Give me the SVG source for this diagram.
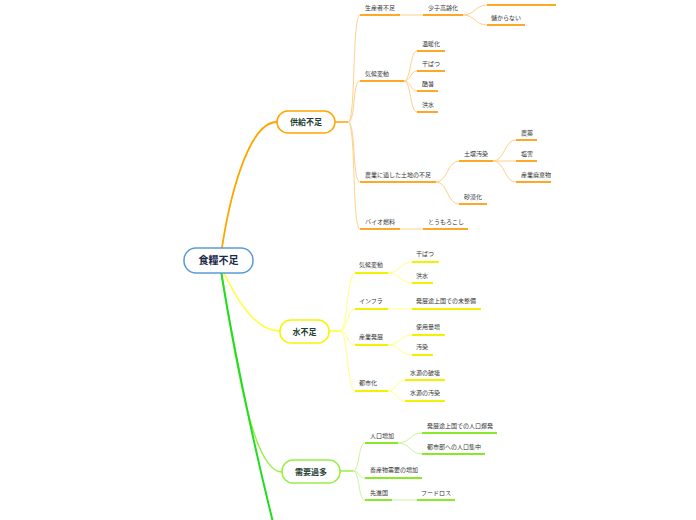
<svg xmlns="http://www.w3.org/2000/svg" width="696" height="520" viewBox="0 0 696 520">
<style>
.t{font-family:"Noto Sans CJK JP","Noto Sans",sans-serif;font-size:6px;fill:#333}
.mt{font-family:"Noto Sans CJK JP","Noto Sans",sans-serif;font-size:8px;font-weight:bold;fill:#1e4032;text-anchor:middle}
.rt{font-family:"Noto Sans CJK JP","Noto Sans",sans-serif;font-size:10px;font-weight:bold;fill:#1a2a4a;text-anchor:middle}
.ol{stroke:#ffa726;stroke-width:2;fill:none}
.oc{stroke:#ffd08a;stroke-width:1;fill:none}
.yl{stroke:#f2f200;stroke-width:2;fill:none}
.yc{stroke:#ffff80;stroke-width:1;fill:none}
.gl{stroke:#88e82a;stroke-width:2;fill:none}
.gc{stroke:#c8f59a;stroke-width:1;fill:none}
.mn{fill:#fff;stroke-width:1.5}
</style>
<g id="connectors">
<path d="M220,262 C228,200 248,122 277,122" stroke="#ffa500" stroke-width="1.8" fill="none"/>
<path d="M220,264 C236,300 255,331 280,331" stroke="#ffff33" stroke-width="1.5" fill="none"/>
<path d="M220,264 C238,380 255,472 282,472" stroke="#99ee44" stroke-width="1.5" fill="none"/>
<path d="M220,264 C230,330 252,440 275,530" stroke="#22dd22" stroke-width="2" fill="none"/>
<path d="M335,122 L348,122" stroke="#ffa500" stroke-width="1.5"/>
<path class="oc" d="M348,122 C356,122 352,15 360,15"/>
<path class="oc" d="M348,122 C356,122 352,81 360,81"/>
<path class="oc" d="M348,122 C356,122 352,182 360,182"/>
<path class="oc" d="M348,122 C356,122 352,229 360,229"/>
<path class="oc" d="M400,15 L423,15"/>
<path class="oc" d="M463,15 C475,15 475,5 487,5"/>
<path class="oc" d="M463,15 C475,15 475,25 487,25"/>
<path class="oc" d="M404,81 C411,81 410,51 417,51"/>
<path class="oc" d="M404,81 C411,81 410,71 417,71"/>
<path class="oc" d="M404,81 C411,81 410,91 417,91"/>
<path class="oc" d="M404,81 C411,81 410,112 417,112"/>
<path class="oc" d="M436,182 C448,182 447,161 459,161"/>
<path class="oc" d="M436,182 C448,182 447,204 459,204"/>
<path class="oc" d="M493,161 C505,161 504,140 516,140"/>
<path class="oc" d="M493,161 L516,161"/>
<path class="oc" d="M493,161 C505,161 504,182 516,182"/>
<path class="oc" d="M400,229 L423,229"/>
<path d="M329,331 L340,331" stroke="#ffff33" stroke-width="1.5"/>
<path class="yc" d="M340,331 C348,331 347,273 355,273"/>
<path class="yc" d="M340,331 C348,331 347,309 355,309"/>
<path class="yc" d="M340,331 C348,331 347,345 355,345"/>
<path class="yc" d="M340,331 C348,331 347,391 355,391"/>
<path class="yc" d="M388,273 C400,273 400,262 412,262"/>
<path class="yc" d="M388,273 C400,273 400,283 412,283"/>
<path class="yc" d="M388,309 L412,309"/>
<path class="yc" d="M388,345 C400,345 400,335 412,335"/>
<path class="yc" d="M388,345 C400,345 400,355 412,355"/>
<path class="yc" d="M388,391 C397,391 396,380 405,380"/>
<path class="yc" d="M388,391 C397,391 396,401 405,401"/>
<path d="M340,471 L353,471" stroke="#99ee44" stroke-width="1.5"/>
<path class="gc" d="M353,471 C360,471 358,443 365,443"/>
<path class="gc" d="M353,471 C360,471 358,478 365,478"/>
<path class="gc" d="M353,471 C360,471 358,500 365,500"/>
<path class="gc" d="M398,443 C410,443 410,433 422,433"/>
<path class="gc" d="M398,443 C410,443 410,454 422,454"/>
<path class="gc" d="M392,500 L417,500"/>
</g>
<g id="root"><rect class="mn" x="184" y="248" width="69" height="25" rx="12" stroke="#5b9bd5"/><text class="rt" x="218.5" y="264">食糧不足</text></g>
<g id="kyokyu"><rect class="mn" x="277" y="111" width="58" height="22" rx="11" stroke="#ffa500"/><text class="mt" x="306" y="125">供給不足</text></g>
<g id="mizu"><rect class="mn" x="280" y="320" width="49" height="23" rx="11" stroke="#f5f500"/><text class="mt" x="304.5" y="334.5">水不足</text></g>
<g id="juyo"><rect class="mn" x="282" y="460" width="58" height="23" rx="11" stroke="#99ee44"/><text class="mt" x="311" y="474.5">需要過多</text></g>
<g id="k1"><path class="ol" d="M360,15 H400"/><text class="t" x="365" y="10">生産者不足</text></g>
<g id="k1a"><path class="ol" d="M423,15 H463"/><text class="t" x="428" y="10">少子高齢化</text></g>
<g id="k1a1"><path class="ol" d="M487,5 H556"/></g>
<g id="k1a2"><path class="ol" d="M487,25 H525"/><text class="t" x="491" y="20">儲からない</text></g>
<g id="k2"><path class="ol" d="M360,81 H404"/><text class="t" x="365" y="76">気候変動</text></g>
<g id="k2a"><path class="ol" d="M417,51 H445"/><text class="t" x="422" y="46">温暖化</text></g>
<g id="k2b"><path class="ol" d="M417,71 H445"/><text class="t" x="422" y="66">干ばつ</text></g>
<g id="k2c"><path class="ol" d="M417,91 H438"/><text class="t" x="422" y="86">酷暑</text></g>
<g id="k2d"><path class="ol" d="M417,112 H438"/><text class="t" x="422" y="107">洪水</text></g>
<g id="k3"><path class="ol" d="M360,182 H436"/><text class="t" x="365" y="177">農業に適した土地の不足</text></g>
<g id="k3a"><path class="ol" d="M459,161 H493"/><text class="t" x="464" y="156">土壌汚染</text></g>
<g id="k3a1"><path class="ol" d="M516,140 H537"/><text class="t" x="521" y="135">農薬</text></g>
<g id="k3a2"><path class="ol" d="M516,161 H537"/><text class="t" x="521" y="156">塩害</text></g>
<g id="k3a3"><path class="ol" d="M516,182 H551"/><text class="t" x="521" y="177">産業廃棄物</text></g>
<g id="k3b"><path class="ol" d="M459,204 H487"/><text class="t" x="464" y="199">砂漠化</text></g>
<g id="k4"><path class="ol" d="M360,229 H400"/><text class="t" x="365" y="224">バイオ燃料</text></g>
<g id="k4a"><path class="ol" d="M423,229 H468"/><text class="t" x="428" y="224">とうもろこし</text></g>
<g id="m1"><path class="yl" d="M355,273 H388"/><text class="t" x="359" y="267">気候変動</text></g>
<g id="m1a"><path class="yl" d="M412,262 H439"/><text class="t" x="416" y="256">干ばつ</text></g>
<g id="m1b"><path class="yl" d="M412,283 H433"/><text class="t" x="416" y="278">洪水</text></g>
<g id="m2"><path class="yl" d="M355,309 H388"/><text class="t" x="359" y="303">インフラ</text></g>
<g id="m2a"><path class="yl" d="M412,309 H481"/><text class="t" x="416" y="303">発展途上国での未整備</text></g>
<g id="m3"><path class="yl" d="M355,345 H388"/><text class="t" x="359" y="339">産業発展</text></g>
<g id="m3a"><path class="yl" d="M412,335 H445"/><text class="t" x="416" y="329">使用量増</text></g>
<g id="m3b"><path class="yl" d="M412,355 H433"/><text class="t" x="416" y="349">汚染</text></g>
<g id="m4"><path class="yl" d="M355,391 H388"/><text class="t" x="359" y="385">都市化</text></g>
<g id="m4a"><path class="yl" d="M405,380 H445"/><text class="t" x="410" y="375">水源の破壊</text></g>
<g id="m4b"><path class="yl" d="M405,401 H445"/><text class="t" x="410" y="395">水源の汚染</text></g>
<g id="j1"><path class="gl" d="M365,443 H398"/><text class="t" x="370" y="438">人口増加</text></g>
<g id="j1a"><path class="gl" d="M422,433 H497"/><text class="t" x="427" y="428">発展途上国での人口爆発</text></g>
<g id="j1b"><path class="gl" d="M422,454 H485"/><text class="t" x="427" y="449">都市部への人口集中</text></g>
<g id="j2"><path class="gl" d="M365,478 H422"/><text class="t" x="370" y="472">畜産物需要の増加</text></g>
<g id="j3"><path class="gl" d="M365,500 H392"/><text class="t" x="370" y="495">先進国</text></g>
<g id="j3a"><path class="gl" d="M417,500 H455"/><text class="t" x="421" y="495">フードロス</text></g>
</svg>
